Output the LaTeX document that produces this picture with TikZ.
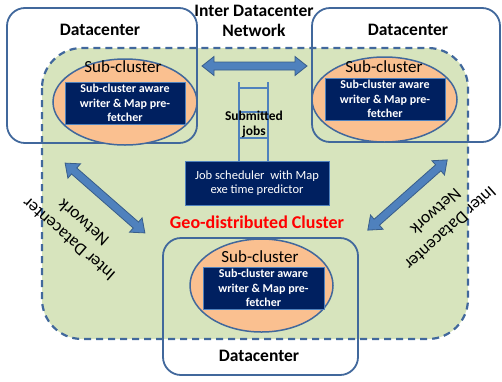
\documentclass[tikz,border=0pt]{standalone}
\usepackage{fontspec}
\setmainfont{Carlito}
\usetikzlibrary{shapes.geometric,calc}
\definecolor{greenfill}{HTML}{D7E4BD}
\definecolor{edgeblue}{HTML}{41689C}
\definecolor{orangefill}{HTML}{FAC090}
\definecolor{navy}{HTML}{002060}
\definecolor{arrowblue}{HTML}{4F81BD}
\definecolor{arrowedge}{HTML}{385D8A}
\newcommand{\dblarrow}[4]{%
 \begin{scope}[shift={(#1,#2)}, rotate=#3]
  \draw[blockarrow] (-#4,0) -- (-#4+12,9.5) -- (-#4+12,4) -- (#4-12,4) -- (#4-12,9.5) -- (#4,0) -- (#4-12,-9.5) -- (#4-12,-4) -- (-#4+12,-4) -- (-#4+12,-9.5) -- cycle;
 \end{scope}}
\begin{document}
\begin{tikzpicture}[x=1pt,y=1pt,
  region/.style={fill=greenfill, draw=edgeblue, line width=2.2pt, dash pattern=on 7pt off 5pt, rounded corners=40pt},
  dcbox/.style={draw=edgeblue, line width=1.8pt, rounded corners=18pt, inner sep=0pt},
  subc/.style={ellipse, draw=edgeblue, line width=1.5pt, fill=orangefill, inner sep=0pt},
  navybox/.style={fill=navy, draw=arrowblue, line width=0.8pt, inner sep=0pt},
  blockarrow/.style={fill=arrowblue, draw=arrowedge, line width=0.8pt},
  ladder/.style={draw=arrowblue, line width=1.2pt},
  dclabel/.style={font=\fontsize{17.5}{20}\selectfont\bfseries, inner sep=0pt},
  sublabel/.style={font=\fontsize{17}{20}\selectfont, inner sep=0pt},
  boxtext/.style={text=white, font=\fontsize{12}{14.5}\selectfont\bfseries, align=center, inner sep=0pt},
  jobtext/.style={text=white, font=\fontsize{12.5}{14}\selectfont, align=center, inner sep=0pt},
  nettext/.style={font=\fontsize{17.5}{22}\selectfont, align=center, inner sep=0pt}
]
\useasboundingbox (0,0) rectangle (502,-381);
% geo-distributed region
\draw[region] (42,-48) rectangle (468,-339);
% datacenter boxes
\node[dcbox, minimum width=190pt, minimum height=135pt] (dc1) at (102,-75.5) {};
\node[dcbox, minimum width=188pt, minimum height=134pt] (dc2) at (406,-75) {};
\node[dcbox, minimum width=195pt, minimum height=137pt] (dc3) at (260.5,-306.5) {};
\node[dclabel] (dl1) at (100,-30) {Datacenter};
\node[dclabel] (dl2) at (408,-30) {Datacenter};
\node[dclabel] (dl3) at (259,-356) {Datacenter};
% sub-cluster ellipses
\node[subc, minimum width=144pt, minimum height=86pt] (e1) at (125,-102) {};
\node[subc, minimum width=145pt, minimum height=85pt] (e2) at (384.5,-99.5) {};
\node[subc, minimum width=143pt, minimum height=93pt] (e3) at (261.5,-285.5) {};
\node[sublabel] (s1) at (123,-67) {Sub-cluster};
\node[sublabel] (s2) at (384,-67) {Sub-cluster};
\node[sublabel] (s3) at (260,-257) {Sub-cluster};
% navy boxes
\node[navybox, minimum width=120pt, minimum height=42pt] (b1) at (125,-103) {};
\node[navybox, minimum width=120pt, minimum height=42pt] (b2) at (385,-99) {};
\node[navybox, minimum width=121pt, minimum height=42pt] (b3) at (263.5,-288) {};
\node[boxtext] (t1) at (b1) {Sub-cluster aware\\writer \& Map pre-\\fetcher};
\node[boxtext] (t2) at (b2) {Sub-cluster aware\\writer \& Map pre-\\fetcher};
\node[boxtext] (t3) at (b3) {Sub-cluster aware\\writer \& Map pre-\\fetcher};
% job scheduler
\node[navybox, minimum width=144pt, minimum height=44pt] (job) at (257,-183) {};
\node[jobtext] (jobt) at (job) {Job scheduler\ \ with Map\\exe time predictor};
% ladder
\coordinate (la) at (239,-82);
\coordinate (lb) at (268,-82);
\draw[ladder] (la) -- (la |- job.north);
\draw[ladder] (lb) -- (lb |- job.north);
\draw[ladder] (239,-88) -- (268,-88);
\draw[ladder] (239,-112) -- (268,-112);
\draw[ladder] (239,-138) -- (268,-138);
\node[font=\fontsize{13.5}{15}\selectfont\bfseries, align=center, inner sep=0pt] (sub) at (254,-124) {Submitted\\jobs};
% arrows
\dblarrow{254.5}{-66}{0}{52.5}
\dblarrow{105}{-198}{-41.2}{53}
\dblarrow{407.5}{-195}{41.5}{53}
% labels
\node[font=\fontsize{18}{20}\selectfont\bfseries, text=red, inner sep=0pt] (geo) at (257,-222) {Geo-distributed Cluster};
\node[font=\fontsize{17.5}{20}\selectfont\bfseries, align=center, inner sep=0pt] (top) at (254,-21) {Inter Datacenter\\Network};
\node[nettext, rotate=139] (left) at (76,-231) {Inter Datacenter\\Network};
\node[nettext, rotate=222] (right) at (443,-220) {Inter Datacenter\\Network};
\end{tikzpicture}
\end{document}
